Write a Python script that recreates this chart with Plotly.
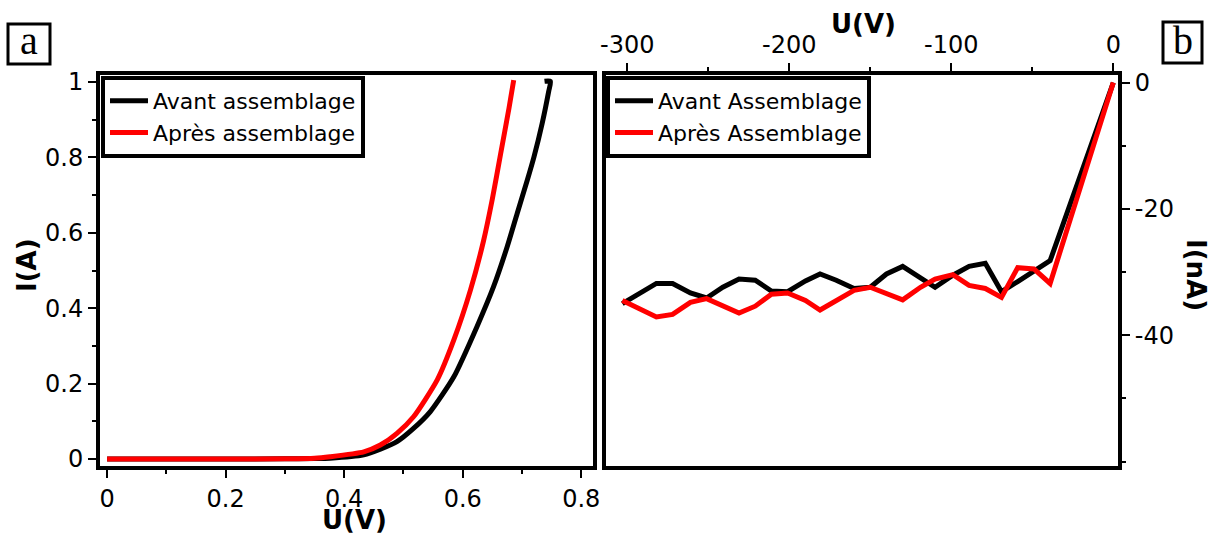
import plotly.graph_objects as go

W, H = 1212, 538

# ---- Panel a : forward I(U) characteristic ----
u_avant = [0, 0.1, 0.2, 0.3, 0.35, 0.376, 0.433, 0.461, 0.489, 0.517, 0.545, 0.585,
           0.624, 0.652, 0.675, 0.692, 0.709, 0.720, 0.734, 0.745, 0.748, 0.738]
i_avant = [0, 0, 0, 0.0005, 0.001, 0.002, 0.011, 0.026, 0.046, 0.081, 0.125, 0.218,
           0.351, 0.457, 0.563, 0.652, 0.740, 0.800, 0.890, 0.975, 1.002, 1.002]
u_apres = [0, 0.1, 0.2, 0.3, 0.35, 0.376, 0.433, 0.461, 0.489, 0.517, 0.557, 0.585,
           0.613, 0.635, 0.650, 0.664, 0.678, 0.686]
i_apres = [0, 0, 0, 0.0005, 0.002, 0.006, 0.019, 0.037, 0.068, 0.112, 0.210, 0.316,
           0.448, 0.578, 0.690, 0.810, 0.930, 1.005]

# ---- Panel b : reverse I(U) characteristic ----
u_rev = [-303, -293, -282, -272, -261, -251, -241, -231, -221, -211, -201, -190, -181,
         -171, -160, -150, -140, -130, -119, -110, -99, -89, -79, -69, -59, -49, -39, 0]
i_rev_avant = [-35.0, -33.4, -31.8, -31.8, -33.3, -34.1, -32.4, -31.1, -31.3, -33.0,
               -33.1, -31.4, -30.3, -31.3, -32.6, -32.4, -30.3, -29.1, -30.9, -32.4,
               -30.5, -29.1, -28.6, -33.1, -31.5, -29.9, -28.2, 0]
i_rev_apres = [-34.5, -35.8, -37.1, -36.7, -34.8, -34.2, -35.3, -36.5, -35.4, -33.5,
               -33.3, -34.5, -36.0, -34.5, -32.9, -32.4, -33.3, -34.4, -32.4, -31.1,
               -30.4, -32.1, -32.6, -34.0, -29.3, -29.5, -31.8, 0]

left_xticks = [0, 0.2, 0.4, 0.6, 0.8]
left_yticks = [0, 0.2, 0.4, 0.6, 0.8, 1]
right_xticks = [-300, -200, -100, 0]
right_xtext = ["-300", "-200", "-100", "0"]
right_yticks = [0, -20, -40]
right_ytext = ["0", "-20", "-40"]

FONT = "DejaVu Sans"
BLACK = "#000000"
RED = "#ff0000"


def px(x):
    return x / W


def py(y):
    return 1 - y / H


fig = go.Figure()
fig.add_trace(go.Scatter(x=u_avant, y=i_avant, mode="lines", name="Avant assemblage",
                         line=dict(color=BLACK, width=5, shape="spline", smoothing=0.6),
                         xaxis="x", yaxis="y", legend="legend"))
fig.add_trace(go.Scatter(x=u_apres, y=i_apres, mode="lines", name="Après assemblage",
                         line=dict(color=RED, width=5, shape="spline", smoothing=0.6),
                         xaxis="x", yaxis="y", legend="legend"))
fig.add_trace(go.Scatter(x=u_rev, y=i_rev_avant, mode="lines", name="Avant Assemblage",
                         line=dict(color=BLACK, width=5),
                         xaxis="x2", yaxis="y2", legend="legend2"))
fig.add_trace(go.Scatter(x=u_rev, y=i_rev_apres, mode="lines", name="Après Assemblage",
                         line=dict(color=RED, width=5),
                         xaxis="x2", yaxis="y2", legend="legend2"))

axis_common = dict(showline=True, mirror=True, linewidth=4, linecolor=BLACK,
                   ticks="outside", ticklen=8, tickwidth=1.5, tickcolor=BLACK,
                   showgrid=False, zeroline=False, automargin=False,
                   tickfont=dict(family=FONT, size=24, color=BLACK))

ydom = [py(466), py(75)]

legend_common = dict(xanchor="left", yanchor="top", itemwidth=38,
                     bordercolor=BLACK, borderwidth=4, bgcolor="white",
                     font=dict(family=FONT, size=22, color=BLACK))

fig.update_layout(
    width=W, height=H,
    margin=dict(l=0, r=0, t=0, b=0, autoexpand=False),
    paper_bgcolor="white", plot_bgcolor="white",
    font=dict(family=FONT, color=BLACK),
    xaxis=dict(domain=[px(100), px(593)], range=[-0.012, 0.8198], anchor="y",
               tickvals=left_xticks,
               minor=dict(dtick=0.1, tick0=0, ticks="outside", ticklen=4, tickcolor=BLACK),
               **axis_common),
    yaxis=dict(domain=ydom, range=[-0.0186, 1.0186], anchor="x",
               tickvals=left_yticks,
               minor=dict(dtick=0.1, tick0=0, ticks="outside", ticklen=4, tickcolor=BLACK),
               **axis_common),
    xaxis2=dict(domain=[px(606), px(1118)], range=[-313.1, 2.9], anchor="y2", side="top",
                tickvals=right_xticks, ticktext=right_xtext,
                minor=dict(dtick=50, tick0=0, ticks="outside", ticklen=4, tickcolor=BLACK),
                **axis_common),
    yaxis2=dict(domain=ydom, range=[-60.7, 1.2], anchor="x2", side="right",
                tickvals=right_yticks, ticktext=right_ytext,
                minor=dict(dtick=10, tick0=0, ticks="outside", ticklen=4, tickcolor=BLACK),
                **axis_common),
    legend=dict(x=px(101), y=py(76), **legend_common),
    legend2=dict(x=px(606), y=py(76), **legend_common),
    showlegend=True,
)

title_font = dict(family=FONT, size=26, color=BLACK, weight="bold")
fig.add_annotation(text="U(V)", x=px(354), y=py(520), xref="paper", yref="paper",
                   showarrow=False, font=title_font, xanchor="center", yanchor="middle")
fig.add_annotation(text="I(A)", x=px(27), y=py(265), xref="paper", yref="paper",
                   showarrow=False, font=title_font, textangle=-90,
                   xanchor="center", yanchor="middle")
fig.add_annotation(text="U(V)", x=px(863), y=py(24), xref="paper", yref="paper",
                   showarrow=False, font=title_font, xanchor="center", yanchor="middle")
fig.add_annotation(text="I(nA)", x=px(1196), y=py(275), xref="paper", yref="paper",
                   showarrow=False, font=title_font, textangle=90,
                   xanchor="center", yanchor="middle")

# panel letters in boxes
fig.add_shape(type="rect", xref="paper", yref="paper",
              x0=px(8), x1=px(50), y0=py(64), y1=py(24),
              line=dict(color=BLACK, width=3), fillcolor="white")
fig.add_annotation(text="a", x=px(29), y=py(41), xref="paper", yref="paper",
                   showarrow=False, xanchor="center", yanchor="middle",
                   font=dict(family="Liberation Serif", size=40, color=BLACK))
fig.add_shape(type="rect", xref="paper", yref="paper",
              x0=px(1163), x1=px(1202), y0=py(63), y1=py(22),
              line=dict(color=BLACK, width=3), fillcolor="white")
fig.add_annotation(text="b", x=px(1182.5), y=py(41), xref="paper", yref="paper",
                   showarrow=False, xanchor="center", yanchor="middle",
                   font=dict(family="Liberation Serif", size=40, color=BLACK))

fig.write_html("out.html", config={"displayModeBar": False},
               post_script="document.body.style.margin='0';"
                           "document.body.style.overflow='hidden';")
